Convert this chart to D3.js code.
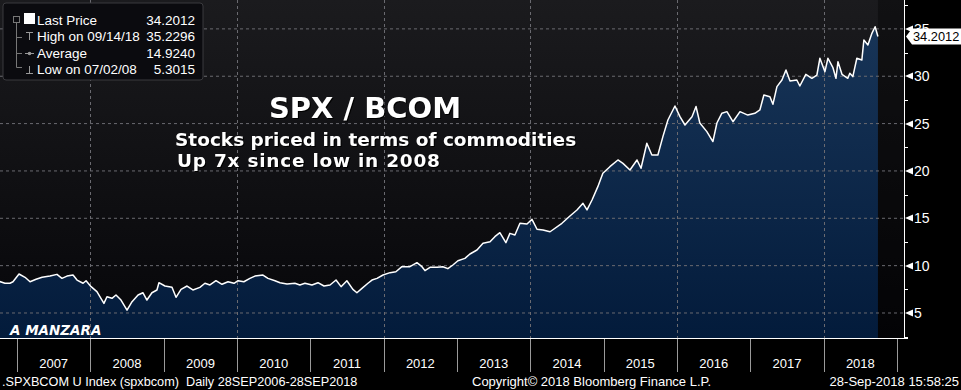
<!DOCTYPE html>
<html>
<head>
<meta charset="utf-8">
<script src="https://cdn.jsdelivr.net/npm/d3@7"></script>
<style>
  html, body { margin: 0; padding: 0; background: #000; }
  svg { display: block; }
  .sans { font-family: "Liberation Sans", Arial, sans-serif; }
  .bold { font-family: "DejaVu Sans", Verdana, sans-serif; font-weight: bold; }
</style>
</head>
<body>
<div id="chart"></div>
<script>
// SPX / BCOM ratio - Bloomberg style chart

// Data (approximate)
const dates = [
  '2006-09-28', '2006-11-02', '2006-11-27', '2006-12-12', '2007-01-11', '2007-02-10', '2007-03-07',
  '2007-04-06', '2007-05-06', '2007-06-14', '2007-07-19', '2007-08-13', '2007-09-07', '2007-10-07',
  '2007-10-27', '2007-11-26', '2007-12-11', '2008-01-05', '2008-02-03', '2008-03-09', '2008-03-24',
  '2008-04-18', '2008-05-08', '2008-06-02', '2008-07-02', '2008-07-27', '2008-08-26', '2008-09-19',
  '2008-10-09', '2008-11-03', '2008-11-28', '2008-12-08', '2009-01-07', '2009-02-11', '2009-03-03',
  '2009-03-28', '2009-04-27', '2009-05-26', '2009-06-30', '2009-07-25', '2009-08-19', '2009-09-18',
  '2009-10-18', '2009-11-17', '2009-12-17', '2010-01-06', '2010-02-04', '2010-03-06', '2010-03-31',
  '2010-05-10', '2010-06-04', '2010-07-09', '2010-08-03', '2010-09-07', '2010-10-16', '2010-11-10',
  '2010-12-05', '2011-01-09', '2011-02-08', '2011-03-10', '2011-04-09', '2011-05-09', '2011-06-03',
  '2011-07-02', '2011-08-01', '2011-08-21', '2011-09-15', '2011-10-15', '2011-11-04', '2011-11-29',
  '2011-12-29', '2012-02-02', '2012-03-02', '2012-04-01', '2012-05-11', '2012-06-15', '2012-07-10',
  '2012-07-25', '2012-08-19', '2012-09-23', '2012-10-22', '2012-11-16', '2012-12-11', '2013-01-05',
  '2013-02-09', '2013-03-06', '2013-04-10', '2013-05-10', '2013-06-14', '2013-07-08', '2013-08-02',
  '2013-09-01', '2013-09-21', '2013-10-16', '2013-11-10', '2013-12-15', '2014-01-09', '2014-02-03',
  '2014-03-05', '2014-04-09', '2014-06-07', '2014-07-17', '2014-08-21', '2014-09-20', '2014-10-10',
  '2014-11-04', '2014-12-03', '2014-12-28', '2015-02-01', '2015-03-13', '2015-04-07', '2015-05-12',
  '2015-06-16', '2015-07-06', '2015-08-04', '2015-08-29', '2015-09-28', '2015-10-23', '2015-11-17',
  '2015-12-22', '2016-01-16', '2016-02-10', '2016-03-16', '2016-04-05', '2016-04-24', '2016-05-29',
  '2016-06-28', '2016-07-18', '2016-08-12', '2016-09-06', '2016-10-06', '2016-11-10', '2016-12-19',
  '2017-01-23', '2017-02-17', '2017-03-09', '2017-04-08', '2017-04-23', '2017-05-13', '2017-06-07',
  '2017-06-27', '2017-07-17', '2017-08-20', '2017-09-04', '2017-10-04', '2017-11-03', '2017-11-28',
  '2017-12-13', '2018-01-07', '2018-01-22', '2018-02-16', '2018-03-03', '2018-03-13', '2018-04-02',
  '2018-05-01', '2018-05-11', '2018-05-26', '2018-06-15', '2018-07-10', '2018-07-20', '2018-08-09',
  '2018-08-29', '2018-09-14', '2018-09-28'
];
const values = [
  8.38, 8.14, 8.14, 8.30, 9.12, 8.77, 8.30,
  8.56, 8.77, 8.90, 9.08, 8.66, 8.90, 9.01,
  8.48, 8.14, 8.41, 7.78, 7.25, 6.02, 6.72,
  6.55, 6.90, 6.37, 5.30, 6.20, 6.90, 7.14,
  6.37, 7.14, 7.43, 8.20, 7.85, 7.71, 6.66,
  7.50, 7.85, 7.43, 7.71, 8.14, 7.96, 8.41,
  8.03, 8.30, 8.14, 8.41, 8.30, 8.66, 8.90,
  9.01, 8.66, 8.41, 8.20, 8.06, 8.14, 7.96,
  8.14, 7.96, 8.20, 7.85, 7.96, 8.48, 7.78,
  8.41, 7.50, 7.14, 7.60, 8.14, 8.48, 8.66,
  9.01, 9.26, 9.36, 9.89, 9.89, 10.31, 9.89,
  9.47, 9.82, 9.82, 9.89, 9.68, 10.07, 10.52,
  10.77, 11.23, 11.65, 12.36, 12.53, 13.06, 13.48,
  12.42, 13.41, 13.24, 14.47, 14.40, 14.89, 13.84,
  13.76, 13.58, 14.47, 15.24, 15.88, 16.58, 15.88,
  16.93, 18.34, 19.75, 20.45, 21.16, 20.80, 20.10,
  21.16, 20.28, 22.92, 21.68, 21.68, 23.62, 25.38,
  26.86, 25.73, 24.85, 25.73, 26.80, 25.06, 24.15,
  23.10, 25.06, 26.10, 26.26, 25.20, 26.26, 25.90,
  26.09, 26.44, 28.02, 27.84, 27.04, 28.90, 29.60,
  30.66, 29.50, 29.60, 28.97, 30.20, 29.78, 30.13,
  31.90, 30.48, 31.90, 30.90, 29.78, 31.54, 30.20,
  29.78, 30.32, 29.96, 31.90, 31.72, 33.83, 33.30,
  34.53, 35.2296, 34.2012
];
const yTicks = [5, 10, 15, 20, 25, 30, 35];
const years = d3.range(2007, 2019);
const gridYears = [2008, 2010, 2012, 2014, 2016, 2018];
const legendRows = [
  { label: 'Last Price', value: '34.2012' },
  { label: 'High on 09/14/18', value: '35.2296' },
  { label: 'Average', value: '14.9240' },
  { label: 'Low on 07/02/08', value: '5.3015' }
];
const lastPrice = 34.2012;

const W = 961, H = 390;
const plot = { left: 0, right: 904, top: 0, bottom: 338 };

const parse = d3.timeParse('%Y-%m-%d');
const data = dates.map((d, i) => ({ date: parse(d), value: values[i] }));

const x = d3.scaleTime()
  .domain([new Date(2007, 0, 1), new Date(2019, 0, 1)])
  .range([17, 897]);
const y = d3.scaleLinear()
  .domain([2.36, 38.05])
  .range([plot.bottom, plot.top]);

const svg = d3.select('#chart').append('svg')
  .attr('width', W).attr('height', H);

const defs = svg.append('defs');
const bg = defs.append('linearGradient').attr('id', 'bg')
  .attr('gradientUnits', 'userSpaceOnUse')
  .attr('x1', 0).attr('y1', plot.top).attr('x2', 0).attr('y2', plot.bottom);
bg.append('stop').attr('offset', '0%').attr('stop-color', '#1b1b1e');
bg.append('stop').attr('offset', '100%').attr('stop-color', '#060609');

const fill = defs.append('linearGradient').attr('id', 'fill')
  .attr('gradientUnits', 'userSpaceOnUse')
  .attr('x1', 0).attr('y1', 20).attr('x2', 0).attr('y2', plot.bottom);
fill.append('stop').attr('offset', '0%').attr('stop-color', '#183558');
fill.append('stop').attr('offset', '100%').attr('stop-color', '#031b3b');

defs.append('clipPath').attr('id', 'clip')
  .append('rect')
  .attr('x', plot.left).attr('y', plot.top)
  .attr('width', plot.right - plot.left).attr('height', plot.bottom - plot.top);

// plot background
svg.append('rect')
  .attr('x', plot.left).attr('y', plot.top)
  .attr('width', plot.right - plot.left).attr('height', plot.bottom - plot.top)
  .attr('fill', 'url(#bg)');

// darker strip after the last data point
const lastX = x(data[data.length - 1].date);
svg.append('rect')
  .attr('x', lastX).attr('y', plot.top)
  .attr('width', plot.right - lastX).attr('height', plot.bottom - plot.top)
  .attr('fill', '#000').attr('opacity', 0.35);

const g = svg.append('g').attr('clip-path', 'url(#clip)');

// area
const area = d3.area()
  .x(d => x(d.date))
  .y0(plot.bottom)
  .y1(d => y(d.value));
g.append('path').datum(data).attr('d', area).attr('fill', 'url(#fill)');

// gridlines
g.selectAll('.hgrid').data(yTicks).enter().append('line')
  .attr('x1', plot.left).attr('x2', plot.right)
  .attr('y1', d => y(d)).attr('y2', d => y(d))
  .attr('stroke', '#6a6a70').attr('stroke-width', 1)
  .attr('stroke-dasharray', '3,3');
g.selectAll('.vgrid').data(gridYears).enter().append('line')
  .attr('x1', d => Math.round(x(new Date(d, 0, 1))) + 0.5)
  .attr('x2', d => Math.round(x(new Date(d, 0, 1))) + 0.5)
  .attr('y1', plot.top).attr('y2', plot.bottom)
  .attr('stroke', '#6a6a70').attr('stroke-width', 1)
  .attr('stroke-dasharray', '3,3');

// price line
const line = d3.line()
  .x(d => x(d.date))
  .y(d => y(d.value));
g.append('path').datum(data).attr('d', line)
  .attr('fill', 'none').attr('stroke', '#fff')
  .attr('stroke-width', 1.5).attr('stroke-linejoin', 'round');

// right axis
svg.append('line')
  .attr('x1', plot.right + 0.5).attr('x2', plot.right + 0.5)
  .attr('y1', 0).attr('y2', plot.bottom + 0.5)
  .attr('stroke', '#fff');
svg.append('line')
  .attr('x1', plot.left).attr('x2', plot.right + 4)
  .attr('y1', plot.bottom + 0.5).attr('y2', plot.bottom + 0.5)
  .attr('stroke', '#fff');

const minor = d3.range(2.5, 38.01, 2.5).filter(v => v % 5 !== 0);
svg.selectAll('.minor').data(minor).enter().append('line')
  .attr('x1', plot.right).attr('x2', plot.right + 4)
  .attr('y1', d => Math.round(y(d)) + 0.5).attr('y2', d => Math.round(y(d)) + 0.5)
  .attr('stroke', '#fff');

const yt = svg.selectAll('.ytick').data(yTicks).enter().append('g')
  .attr('transform', d => `translate(${plot.right + 1},${Math.round(y(d))})`);
yt.append('path').attr('d', 'M0,0 L8,-3.5 L8,3.5 Z').attr('fill', '#fff');
yt.append('text').attr('class', 'sans')
  .attr('x', 9).attr('y', 5)
  .attr('font-size', 14).attr('fill', '#fff')
  .text(d => d);

// last price tag
const lp = svg.append('g').attr('transform', `translate(${plot.right + 2},${y(lastPrice)})`);
lp.append('path').attr('d', 'M0,0 L6,-8 L56,-8 L56,8 L6,8 Z').attr('fill', '#fff');
lp.append('text').attr('class', 'sans')
  .attr('x', 7).attr('y', 4.5)
  .attr('font-size', 12.8).attr('fill', '#000')
  .text(lastPrice.toFixed(4));

// bottom year axis
const bounds = d3.range(2007, 2020);
svg.selectAll('.ysep').data(bounds).enter().append('line')
  .attr('x1', d => Math.round(x(new Date(d, 0, 1))) + 0.5)
  .attr('x2', d => Math.round(x(new Date(d, 0, 1))) + 0.5)
  .attr('y1', plot.bottom + 1).attr('y2', 372)
  .attr('stroke', '#9a9a9a');
svg.selectAll('.ylab').data(years).enter().append('text')
  .attr('class', 'sans')
  .attr('x', d => (x(new Date(d, 0, 1)) + x(new Date(d + 1, 0, 1))) / 2)
  .attr('y', 368)
  .attr('text-anchor', 'middle')
  .attr('font-size', 13).attr('fill', '#fff')
  .text(d => d);

// footer
const foot = [
  { text: '.SPXBCOM U Index (spxbcom)  Daily 28SEP2006-28SEP2018', x: 2, anchor: 'start', size: 12.7 },
  { text: 'Copyright\u00A9 2018 Bloomberg Finance L.P.', x: 472, anchor: 'start', size: 13 },
  { text: '28-Sep-2018 15:58:25', x: 959, anchor: 'end', size: 13 }
];
svg.selectAll('.foot').data(foot).enter().append('text')
  .attr('class', 'sans')
  .attr('x', d => d.x).attr('y', 386)
  .attr('text-anchor', d => d.anchor)
  .attr('font-size', d => d.size).attr('fill', '#fff')
  .style('white-space', 'pre')
  .text(d => d.text);

// legend box
const lg = svg.append('g').attr('transform', 'translate(3,3)');
lg.append('rect').attr('width', 200).attr('height', 77).attr('rx', 3)
  .attr('fill', '#0b0b0f').attr('stroke', '#3a3a3e');
// tree connectors
lg.append('path')
  .attr('d', 'M13.5,14 V64.5 H19 M13.5,34.5 H19 M13.5,50.5 H19')
  .attr('fill', 'none').attr('stroke', '#777');
lg.append('rect').attr('x', 10.5).attr('y', 13.5).attr('width', 6).attr('height', 6)
  .attr('fill', '#0b0b0f').attr('stroke', '#777');
lg.append('rect').attr('x', 21).attr('y', 10).attr('width', 11).attr('height', 11).attr('fill', '#fff');
// high / average / low glyphs
lg.append('path')
  .attr('d', 'M23,29.5 H30 M26.5,29.5 V37 M22,50.5 H31 M23,70.5 H30 M26.5,63 V70.5')
  .attr('fill', 'none').attr('stroke', '#999');
lg.append('circle').attr('cx', 26.5).attr('cy', 50.5).attr('r', 1.8).attr('fill', '#999');

lg.selectAll('.lab').data(legendRows).enter().append('text')
  .attr('class', 'sans')
  .attr('x', 34).attr('y', (d, i) => 22 + i * 16.3)
  .attr('font-size', 13.5).attr('fill', '#fff')
  .text(d => d.label);
lg.selectAll('.val').data(legendRows).enter().append('text')
  .attr('class', 'sans')
  .attr('x', 192).attr('y', (d, i) => 22 + i * 16.3)
  .attr('text-anchor', 'end')
  .attr('font-size', 13.5).attr('fill', '#fff')
  .text(d => d.value);

// annotations
const shadow = 'drop-shadow(1px 1px 0 #000)';
svg.append('text').attr('class', 'bold')
  .attr('x', 365).attr('y', 118).attr('text-anchor', 'middle')
  .attr('font-size', 29).attr('fill', '#fff').style('filter', shadow)
  .text('SPX / BCOM');
svg.append('text').attr('class', 'bold')
  .attr('x', 175).attr('y', 146)
  .attr('font-size', 18.5).attr('fill', '#fff').style('filter', shadow)
  .text('Stocks priced in terms of commodities');
svg.append('text').attr('class', 'bold')
  .attr('x', 177).attr('y', 167)
  .attr('font-size', 18.5).attr('letter-spacing', 0.75)
  .attr('fill', '#fff').style('filter', shadow)
  .text('Up 7x since low in 2008');
svg.append('text').attr('class', 'bold')
  .attr('x', 10).attr('y', 335)
  .attr('font-size', 13.5).attr('font-style', 'italic').attr('fill', '#fff')
  .text('A MANZARA');
</script>
</body>
</html>
